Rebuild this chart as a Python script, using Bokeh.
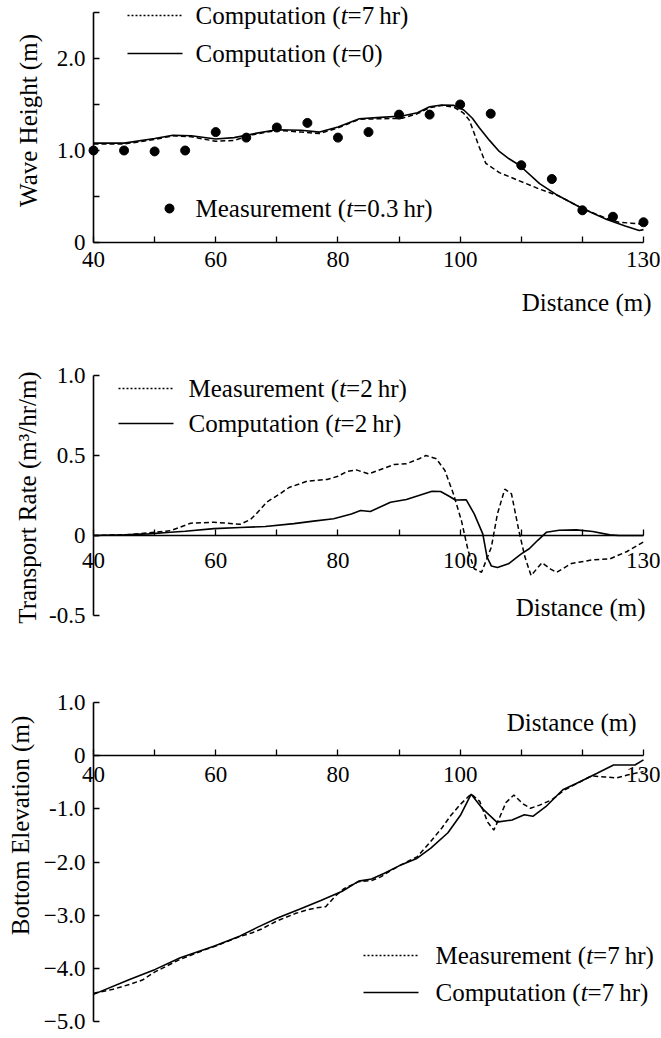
from math import pi
from bokeh.plotting import figure
from bokeh.models import Range1d, FixedTicker, Label, LinearAxis
from bokeh.layouts import column
from bokeh.embed import file_html
from bokeh.resources import INLINE

# ---------------- data ----------------
# Panel 1: wave height
wh_meas_x = [40, 45, 50, 55, 60, 65, 70, 75, 80, 85, 90, 95, 100, 105, 110, 115, 120, 125, 130]
wh_meas_y = [1.00, 1.00, 0.99, 1.00, 1.20, 1.14, 1.25, 1.30, 1.14, 1.20, 1.39, 1.39, 1.50, 1.40,
             0.84, 0.69, 0.35, 0.28, 0.22]
wh_c0_x = [40, 45, 50, 53, 56, 60, 63, 66, 70, 74, 77, 80, 83.5, 87, 90.5, 93, 95, 97, 99, 100.6,
           102, 103.1, 104.8, 106.4, 108, 109.7, 113, 116, 120, 124, 127, 129.3, 130]
wh_c0_y = [1.08, 1.08, 1.13, 1.165, 1.16, 1.125, 1.14, 1.18, 1.225, 1.22, 1.20, 1.255, 1.345, 1.36,
           1.375, 1.41, 1.475, 1.495, 1.49, 1.44, 1.35, 1.25, 1.11, 0.99, 0.91, 0.84, 0.64, 0.51,
           0.37, 0.25, 0.18, 0.13, 0.14]
wh_c7_x = [40, 45, 50, 53, 56, 60, 63, 66, 70, 74, 77, 80, 83.5, 87, 90.5, 93, 95, 97, 99, 100.5,
           101.5, 103.1, 104.2, 106.4, 109.7, 113, 116, 120, 124, 126, 128, 130]
wh_c7_y = [1.07, 1.07, 1.12, 1.16, 1.15, 1.10, 1.11, 1.17, 1.22, 1.20, 1.185, 1.245, 1.34, 1.345,
           1.35, 1.40, 1.465, 1.49, 1.47, 1.41, 1.33, 1.04, 0.86, 0.76, 0.67, 0.58, 0.51, 0.37,
           0.26, 0.22, 0.21, 0.20]

# Panel 2: transport rate
tr_meas_x = [40, 45.5, 49, 52.6, 55.9, 59.7, 64, 65.7, 66.5, 68.4, 70.5, 72, 75, 78.2, 80, 81.5, 83,
             85, 87.5, 89.2, 91.2, 93.3, 94.4, 96.1, 97.5, 98.9, 100.2, 101.3, 102.3, 103.5,
             105.1, 106.1, 107.3, 108.4, 109.6, 110.6, 111.6, 113.4, 114.8, 115.8, 118.2, 121.7,
             124.5, 127.3, 130]
tr_meas_y = [0.0, 0.005, 0.017, 0.03, 0.077, 0.083, 0.07, 0.10, 0.13, 0.21, 0.26, 0.30, 0.34, 0.35,
             0.37, 0.40, 0.41, 0.385, 0.42, 0.444, 0.448, 0.48, 0.50, 0.48, 0.406, 0.26, 0.094,
             -0.094, -0.208, -0.23, -0.073, 0.135, 0.29, 0.26, 0.031, -0.135, -0.25, -0.17, -0.21,
             -0.23, -0.175, -0.152, -0.146, -0.10, -0.04]
tr_comp_x = [40, 45, 49, 52.6, 55, 59.7, 64, 68.1, 72.8, 76, 79.3, 82.2, 83.7, 85.3, 88.6, 91.2,
             94, 95.4, 96.8, 98.2, 99.2, 101, 102.3, 103.7, 104.4, 105.1, 106.1, 107.9, 110,
             111.3, 112.7, 114.1, 116.2, 119, 121.7, 124.5, 126, 130]
tr_comp_y = [0.0, 0.005, 0.01, 0.02, 0.027, 0.043, 0.05, 0.056, 0.074, 0.09, 0.105, 0.135, 0.156,
             0.15, 0.208, 0.225, 0.26, 0.277, 0.275, 0.245, 0.222, 0.223, 0.135, 0.01, -0.135,
             -0.19, -0.2, -0.177, -0.115, -0.083, -0.03, 0.02, 0.033, 0.035, 0.025, 0.004, 0.0, 0.0]

# Panel 3: bottom elevation
be_comp_x = [40, 45.9, 50.1, 54.2, 59.8, 64, 66.8, 70.2, 73.7, 77.2, 80.7, 83.4, 85.5, 87.6, 90.4,
             92.8, 95.2, 98, 100.1, 101.8, 103.6, 106, 108.5, 110.5, 111.9, 114, 116.8, 119.6,
             122.4, 125.1, 126.5, 128.6, 130]
be_comp_y = [-4.49, -4.21, -4.02, -3.80, -3.58, -3.39, -3.23, -3.05, -2.89, -2.725, -2.55, -2.36,
             -2.32, -2.21, -2.05, -1.94, -1.74, -1.45, -1.11, -0.725, -0.99, -1.25, -1.21, -1.11,
             -1.14, -0.96, -0.64, -0.49, -0.33, -0.175, -0.175, -0.175, -0.08]
be_meas_x = [40, 43, 46, 48, 50, 54, 58, 60, 64, 66, 67.5, 70, 73, 75, 76.5, 78, 79.5, 81, 83.4,
             85.5, 87, 88.5, 90.4, 93, 95, 97, 98.5, 100, 101.8, 103.2, 104.5, 105.5, 106.5,
             107.5, 108.8, 110.2, 111.5, 113, 115, 117, 119.5, 121.5, 123.7, 125.5, 127.5, 130]
be_meas_y = [-4.47, -4.40, -4.30, -4.22, -4.07, -3.84, -3.66, -3.58, -3.40, -3.33, -3.26, -3.11,
             -2.97, -2.90, -2.86, -2.84, -2.65, -2.50, -2.37, -2.35, -2.28, -2.17, -2.05, -1.90,
             -1.64, -1.36, -1.12, -0.92, -0.72, -0.86, -1.25, -1.40, -1.15, -0.88, -0.74, -0.90,
             -0.99, -0.93, -0.83, -0.65, -0.50, -0.38, -0.40, -0.42, -0.36, -0.30]

x_major = [40, 60, 80, 100, 130]
x_minor = [50, 70, 90, 110, 120]

# ---------------- layout constants (page pixels) ----------------
FONT = "Liberation Serif"
TXT = 25
TICK = "23px"
DASH = "5 3"
W_FIG = 660
X40_PX, X130_PX = 93, 643
PPU = (X130_PX - X40_PX) / 90.0  # px per metre

# Times / Liberation Serif advance widths (per 1000 em)
CW = {' ': 250, '(': 333, ')': 333, '=': 564, '.': 250, 'C': 667, 'M': 889, 'a': 444, 'c': 444,
      'e': 444, 'h': 500, 'i': 278, 'm': 778, 'n': 500, 'o': 500, 'p': 500, 'r': 333, 's': 389,
      't': 278, 'u': 500, '\u2009': 167}


def tw(s, size):
    return sum(CW.get(c, 500) for c in s) / 1000.0 * size


class Panel:
    """A figure whose frame covers the whole canvas; axes are placed with fixed_location."""

    def __init__(self, top, height, zero_px, scale, ymin, ymax, yticks, ylabels, yminor,
                 x_standoff):
        self.top, self.zero, self.scale = top, zero_px, scale
        xr = Range1d(40 - X40_PX / PPU, 40 + (W_FIG - X40_PX) / PPU)
        yr = Range1d(-(top + height - zero_px) / scale, (zero_px - top) / scale)
        p = figure(width=W_FIG, height=height, x_range=xr, y_range=yr, output_backend="svg",
                   toolbar_location=None, x_axis_location=None, y_axis_location=None,
                   min_border=0)
        p.outline_line_color = None
        for g in p.grid:
            g.visible = False
        xa = LinearAxis(ticker=FixedTicker(ticks=x_major, minor_ticks=x_minor),
                        fixed_location=0, bounds=(40, 130))
        self.style_axis(xa, x_standoff)
        p.add_layout(xa, "below")
        ya = LinearAxis(ticker=FixedTicker(ticks=yticks, minor_ticks=yminor),
                        major_label_overrides=ylabels, fixed_location=40, bounds=(ymin, ymax))
        self.style_axis(ya, 8)
        p.add_layout(ya, "left")
        self.p = p

    @staticmethod
    def style_axis(ax, standoff):
        ax.axis_line_width = 1.6
        ax.axis_line_color = "black"
        ax.major_tick_in = 6
        ax.major_tick_out = 0
        ax.minor_tick_in = 6
        ax.minor_tick_out = 0
        ax.major_tick_line_width = 1.3
        ax.minor_tick_line_width = 1.3
        ax.major_label_text_font = FONT
        ax.major_label_text_font_size = TICK
        ax.major_label_text_color = "black"
        ax.major_label_standoff = standoff

    def X(self, px):
        return 40 + (px - X40_PX) / PPU

    def Y(self, py):
        return (self.zero - py) / self.scale

    def text(self, px, py, text, align="left", angle=0.0, style="normal"):
        self.p.add_layout(Label(x=self.X(px), y=self.Y(py), text=text, text_font=FONT,
                                text_font_size=f"{TXT}px", text_align=align,
                                text_baseline="middle", angle=angle, text_font_style=style,
                                text_color="black"))

    def legend_text(self, px, py, head, tail):
        parts = [(head + " (", "normal"), ("t", "italic"), (tail + ")", "normal")]
        for txt, st in parts:
            self.text(px, py, txt, style=st)
            px += tw(txt, TXT)

    def legend_line(self, px0, px1, py, dash=None):
        kw = dict(line_color="black", line_width=1.5)
        if dash:
            kw["line_dash"] = dash
        self.p.line([self.X(px0), self.X(px1)], [self.Y(py), self.Y(py)], **kw)


# ---------------- panel 1 ----------------
P1 = Panel(0, 340, 242, 92.0, 0, 2.5, [0, 1, 2], {0: "0", 1: "1.0", 2: "2.0"},
           [0.5, 1.5, 2.5], 9)
p1 = P1.p
p1.line(wh_c7_x, wh_c7_y, line_color="black", line_width=1.5, line_dash=DASH)
p1.line(wh_c0_x, wh_c0_y, line_color="black", line_width=1.6)
p1.scatter(wh_meas_x, wh_meas_y, size=9, color="black")
P1.legend_line(127, 182, 15, "2 2")
P1.legend_text(195, 15, "Computation", "=7\u2009hr")
P1.legend_line(127, 182, 53)
P1.legend_text(195, 53, "Computation", "=0")
p1.scatter([P1.X(169)], [P1.Y(208)], size=9, color="black")
P1.legend_text(195, 208, "Measurement", "=0.3\u2009hr")
P1.text(651, 302, "Distance (m)", align="right")
P1.text(28, 120, "Wave Height (m)", align="center", angle=pi / 2)

# ---------------- panel 2 ----------------
P2 = Panel(340, 320, 535, 160.0, -0.5, 1.0, [-0.5, 0, 0.5, 1.0],
           {-0.5: "-0.5", 0: "0", 0.5: "0.5", 1: "1.0"}, [], 17)
p2 = P2.p
p2.line(tr_meas_x, tr_meas_y, line_color="black", line_width=1.5, line_dash=DASH)
p2.line(tr_comp_x, tr_comp_y, line_color="black", line_width=1.6)
P2.legend_line(118, 173, 388, "2 2")
P2.legend_text(188, 388, "Measurement", "=2\u2009hr")
P2.legend_line(118, 173, 423)
P2.legend_text(188, 423, "Computation", "=2\u2009hr")
P2.text(645, 607, "Distance (m)", align="right")
P2.text(27, 497, "Transport Rate (m\u00b3/hr/m)", align="center", angle=pi / 2)

# ---------------- panel 3 ----------------
S3 = 319 / 6.0
P3 = Panel(660, 376, 702 + S3, S3, -5.0, 1.0, [-5, -4, -3, -2, -1, 0, 1],
           {-5: "\u22125.0", -4: "\u22124.0", -3: "\u22123.0", -2: "\u22122.0", -1: "-1.0",
            0: "0", 1: "1.0"}, [], 11)
p3 = P3.p
p3.line(be_meas_x, be_meas_y, line_color="black", line_width=1.5, line_dash=DASH)
p3.line(be_comp_x, be_comp_y, line_color="black", line_width=1.6)
P3.legend_line(363, 418, 955, "2 2")
P3.legend_text(435, 955, "Measurement", "=7\u2009hr")
P3.legend_line(363, 418, 992)
P3.legend_text(435, 992, "Computation", "=7\u2009hr")
P3.text(636, 722, "Distance (m)", align="right")
P3.text(20, 825, "Bottom Elevation (m)", align="center", angle=pi / 2)

layout = column(p1, p2, p3, spacing=0)
open("out.html", "w").write(file_html(layout, INLINE))
